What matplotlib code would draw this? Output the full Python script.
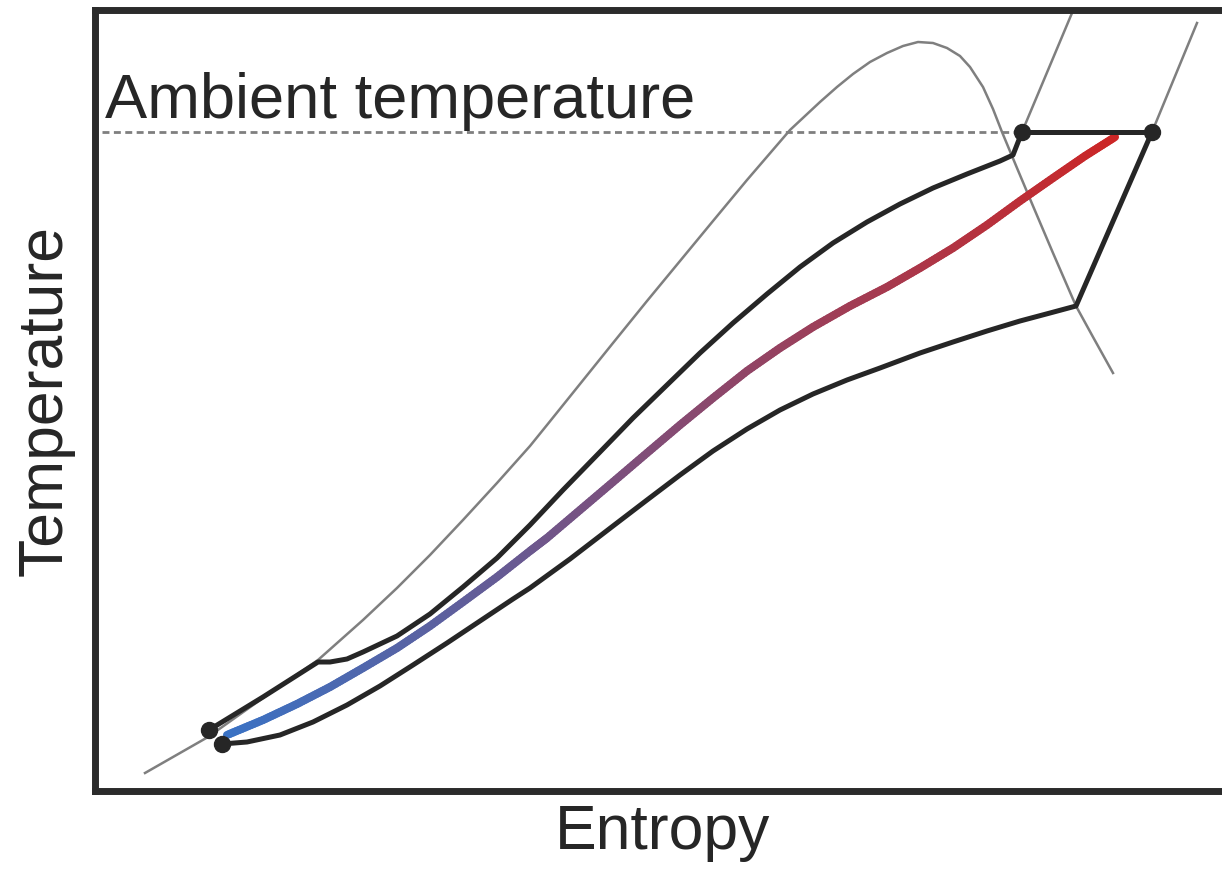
import numpy as np
import matplotlib
matplotlib.use("Agg")
import matplotlib.pyplot as plt
from matplotlib.collections import LineCollection
from matplotlib.colors import to_rgb

plt.rcParams['font.family'] = ['Liberation Sans', 'DejaVu Sans']

# saturation dome (entropy, temperature)
dome_s = [50, 113, 168, 223, 268, 302, 335, 368, 402, 435, 452, 485, 518, 552, 585, 618, 652, 695,
          725, 742, 758, 775, 792, 808, 823, 838, 852, 865, 875, 888, 898, 907, 922, 938, 958, 981, 998, 1018]
dome_T = [18, 54, 93, 131, 171, 203, 236, 271, 308, 345, 366, 407, 448, 490, 530, 570, 611, 661,
          689, 704, 717, 729, 738, 745, 749, 748, 743, 735, 724, 704, 682, 659, 623, 585, 538, 485, 454, 418]

# upper branch of the cycle
upper_s = [114, 168, 223, 235, 252, 268, 302, 335, 368, 402, 435, 468, 505, 538, 572, 605, 638, 672,
           705, 738, 772, 805, 838, 872, 905, 918, 927]
upper_T = [61, 94, 129, 129, 132, 139, 155, 177, 204, 233, 266, 301, 339, 373, 406, 438, 468, 497,
           524, 548, 569, 587, 603, 617, 630, 636, 659]

# lower branch of the cycle
lower_s = [127, 152, 185, 218, 252, 285, 318, 352, 385, 418, 435, 475, 518, 552, 585, 618, 652, 685,
           718, 752, 785, 825, 858, 892, 925, 955, 981, 1057]
lower_T = [47, 49, 56, 69, 86, 105, 126, 148, 170, 192, 203, 232, 265, 291, 316, 340, 362, 381,
           397, 411, 423, 438, 449, 460, 470, 478, 485, 659]

# heat source stream, cold to hot
stream_s = [132, 168, 202, 235, 268, 302, 335, 368, 402, 435, 452, 485, 518, 552, 585, 618, 652, 685,
            718, 755, 792, 825, 858, 892, 925, 958, 990, 1020]
stream_T = [56, 71, 87, 104, 123, 143, 165, 189, 214, 240, 253, 281, 309, 338, 366, 393, 420, 443,
            464, 485, 504, 523, 543, 566, 590, 613, 635, 654]

# isobars above the dome
iso1_s = [927, 977]
iso1_T = [659, 778]
iso2_s = [1057, 1102]
iso2_T = [659, 768]

# state points
state_s = [114, 127, 927, 1057]
state_T = [61, 47, 659, 659]

T_ambient = 659

dark = '#262626'
grey = '#7f7f7f'

fig = plt.figure(figsize=(12.22, 8.74), dpi=100)
ax = fig.add_axes([95 / 1222, 83 / 874, 1127 / 1222, 781 / 874])
ax.set_xlim(0, 1127)
ax.set_ylim(0, 781)

ax.plot(dome_s, dome_T, color=grey, lw=1.8, solid_joinstyle='round', zorder=2)
ax.plot(iso1_s, iso1_T, color=grey, lw=1.8, zorder=2)
ax.plot(iso2_s, iso2_T, color=grey, lw=1.8, zorder=2)

ax.axhline(T_ambient, xmin=7 / 1127, xmax=920 / 1127, color=grey, lw=2,
           dashes=(2.5, 1.6), zorder=1)

# stream with blue-to-red colour along its length
pts = []
for i in range(len(stream_s) - 1):
    seg_s = np.linspace(stream_s[i], stream_s[i + 1], 12, endpoint=False)
    seg_T = np.linspace(stream_T[i], stream_T[i + 1], 12, endpoint=False)
    pts += list(zip(seg_s, seg_T))
pts.append((stream_s[-1], stream_T[-1]))
pts = np.array(pts)
segs = np.stack([pts[:-1], pts[1:]], axis=1)
frac = np.linspace(0, 1, len(segs))
c0 = np.array(to_rgb('#3a72c4'))
c1 = np.array(to_rgb('#cc2626'))
cols = c0[None, :] * (1 - frac[:, None]) + c1[None, :] * frac[:, None]
lc = LineCollection(segs, colors=cols, linewidths=5.8, capstyle='round',
                    joinstyle='round', zorder=3)
ax.add_collection(lc)

ax.plot(upper_s, upper_T, color=dark, lw=3.6, solid_joinstyle='round', zorder=4)
ax.plot(lower_s, lower_T, color=dark, lw=3.6, solid_joinstyle='round', zorder=4)
ax.plot([state_s[2], state_s[3]], [state_T[2], state_T[3]], color=dark, lw=3.6, zorder=4)
ax.plot(state_s, state_T, 'o', color=dark, ms=11.5, zorder=5)

ax.text(10, T_ambient + 14, 'Ambient temperature', fontsize=45.5, color=dark,
        va='baseline', ha='left')

ax.set_xlabel('Entropy', fontsize=45, color=dark)
ax.set_ylabel('Temperature', fontsize=45, color=dark)
ax.xaxis.set_label_coords(0.504, -0.015)
ax.yaxis.set_label_coords(-0.018, 0.5)

ax.set_xticks([])
ax.set_yticks([])
for side in ['left', 'top', 'bottom']:
    ax.spines[side].set_linewidth(5)
    ax.spines[side].set_color('#2b2b2b')
ax.spines['right'].set_visible(False)

fig.savefig('out.png', dpi=100)
